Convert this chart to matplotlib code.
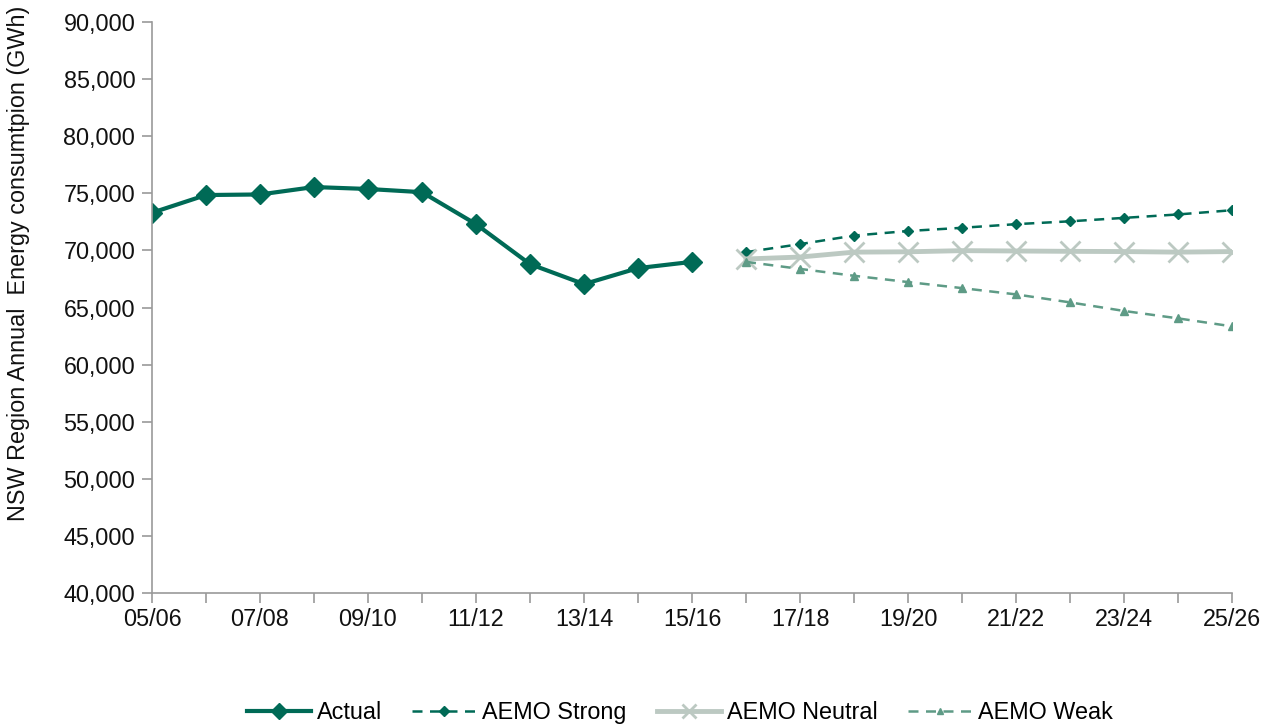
import numpy as np
import matplotlib
matplotlib.use("Agg")
import matplotlib.pyplot as plt
from matplotlib.ticker import FuncFormatter

plt.rcParams["font.family"] = ["Liberation Sans", "DejaVu Sans"]

# financial years shown on the x axis
years = ["05/06", "06/07", "07/08", "08/09", "09/10", "10/11", "11/12", "12/13",
         "13/14", "14/15", "15/16", "16/17", "17/18", "18/19", "19/20", "20/21",
         "21/22", "22/23", "23/24", "24/25", "25/26"]

# actual consumption 05/06 - 15/16
actual = [73300, 74850, 74900, 75550, 75380, 75100, 72300, 68800, 67050, 68450, 69000]

# AEMO forecasts 16/17 - 25/26
strong = [69850, 70550, 71300, 71700, 71980, 72300, 72550, 72850, 73150, 73520]
neutral = [69250, 69420, 69850, 69880, 69980, 69950, 69920, 69900, 69850, 69900]
weak = [69000, 68380, 67780, 67230, 66700, 66150, 65450, 64700, 64050, 63350]

dark = "#006a56"
light_green = "#5e9b86"
grey = "#bcc9c2"
fs = 16.8

fig = plt.figure(figsize=(12.73, 7.27), dpi=100)
ax = fig.add_axes([0.1194, 0.1843, 0.8484, 0.7854])

x = np.arange(len(years))
xa = x[:len(actual)]
xf = x[len(actual):]

ax.plot(xa, actual, color=dark, lw=3, marker="D", ms=10, label="Actual")
ax.plot(xf, strong, color=dark, lw=1.8, ls=(0, (4, 3)), marker="D", ms=5.5,
        label="AEMO Strong")
ax.plot(xf, neutral, color=grey, lw=3.5, marker="x", ms=15, mew=2,
        label="AEMO Neutral")
ax.plot(xf, weak, color=light_green, lw=1.8, ls=(0, (4, 3)), marker="^", ms=6,
        label="AEMO Weak")

ax.set_xlim(0, len(years) - 1)
ax.set_ylim(40000, 90000)
ax.set_yticks(np.arange(40000, 90001, 5000))
ax.yaxis.set_major_formatter(FuncFormatter(lambda v, p: f"{int(v):,}"))
ax.set_xticks(x)
ax.set_xticklabels([y if i % 2 == 0 else "" for i, y in enumerate(years)])

for s in ["top", "right"]:
    ax.spines[s].set_visible(False)
for s in ["left", "bottom"]:
    ax.spines[s].set_color("#9a9a9a")
    ax.spines[s].set_linewidth(1.2)
ax.tick_params(axis="both", colors="#9a9a9a", length=7, width=1.2,
               labelcolor="#111111", labelsize=fs)
ax.tick_params(axis="y", pad=5)
ax.tick_params(axis="x", pad=4)

ax.set_ylabel("NSW Region Annual  Energy consumtpion (GWh)", fontsize=fs,
              color="#111111", va="center")
ax.yaxis.set_label_coords(-0.124, 0.578)

leg = fig.legend(loc="lower center", bbox_to_anchor=(0.534, -0.025), ncol=4,
                 frameon=False, fontsize=fs, handlelength=2.75,
                 columnspacing=1.3, handletextpad=0.25)
for h, ms in zip(leg.legend_handles, [8, 5, 10, 5]):
    h.set_markersize(ms)

fig.savefig("out.png", dpi=100)
